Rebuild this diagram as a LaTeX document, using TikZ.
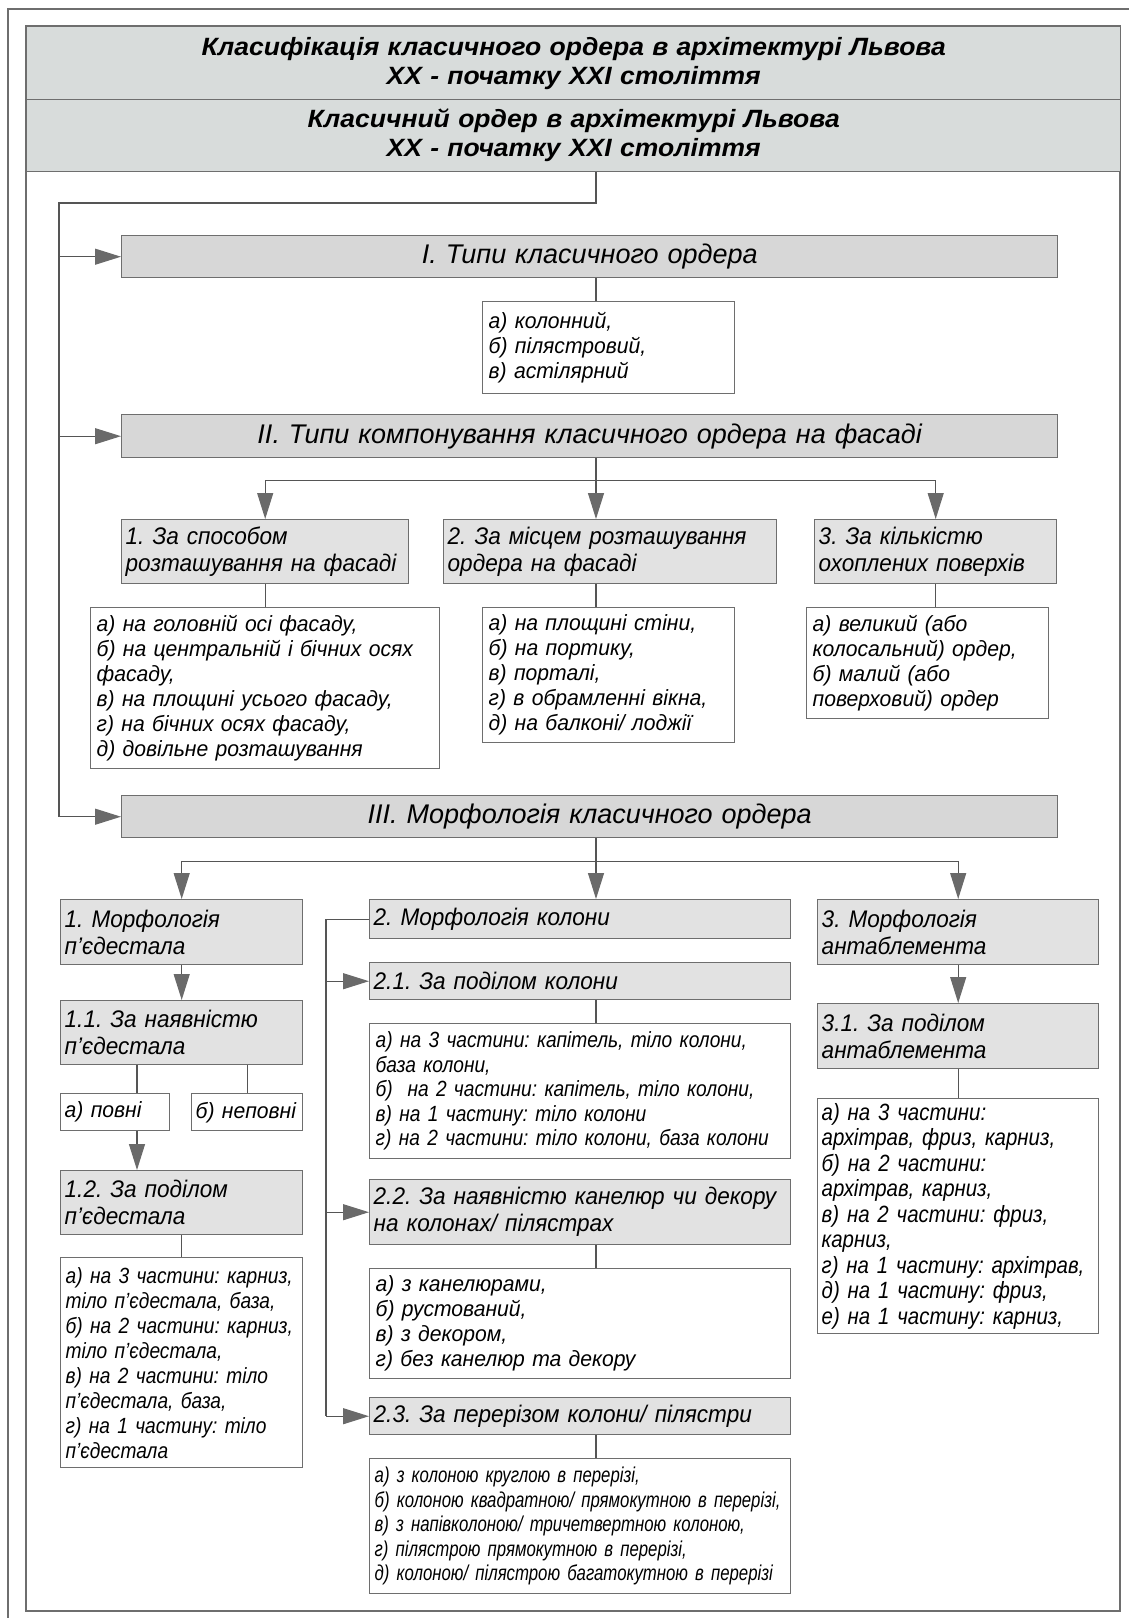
\documentclass[tikz,border=0pt]{standalone}
\usepackage{fontspec}
\setmainfont{Liberation Sans}
\newfontfamily\wideface[FakeStretch=1.06]{Liberation Sans}
\newfontfamily\bodyface[FakeStretch=0.96]{Liberation Sans}
\newfontfamily\subface[FakeStretch=0.94]{Liberation Sans}
\newfontfamily\semiface[FakeStretch=0.87]{Liberation Sans}
\newfontfamily\narrowface[FakeStretch=0.78]{Liberation Sans}
\usetikzlibrary{arrows.meta}

\definecolor{framegray}{HTML}{6E6E6E}
\definecolor{linegray}{HTML}{555555}
\definecolor{arrgray}{HTML}{6A6A6A}
\definecolor{hdrfill}{HTML}{D8DCDB}
\definecolor{secfill}{HTML}{D7D7D7}
\definecolor{subfill}{HTML}{E2E2E2}

\begin{document}
\frenchspacing
\begin{tikzpicture}[x=1pt,y=-1pt,
  frame/.style={draw=framegray,line width=1.5pt},
  link/.style={draw=linegray,line width=1.2pt},
  arr/.style={link,-{Triangle[length=26pt,width=16pt,color=arrgray]}},
  hdrbox/.style={draw=framegray,line width=1.4pt,fill=hdrfill,anchor=north west,
    align=center,inner sep=0pt,font=\wideface\bfseries\itshape\fontsize{25}{29}\selectfont},
  secbox/.style={draw=framegray,line width=1.4pt,fill=secfill,anchor=north west,
    align=center,inner sep=0pt,font=\itshape\fontsize{27}{30}\selectfont},
  subbox/.style={draw=framegray,line width=1.4pt,fill=subfill,anchor=north west,
    align=left,inner xsep=4pt,inner ysep=0pt,font=\subface\itshape\fontsize{24}{27}\selectfont},
  detbox/.style={draw=framegray,line width=1.4pt,fill=white,anchor=north west,
    align=left,inner xsep=6pt,inner ysep=0pt,font=\bodyface\itshape\fontsize{22}{25}\selectfont}]
\useasboundingbox (0,0) rectangle (1129,1618);

% frames
\draw[frame] (8,1618) -- (8,9) -- (1129,9);
\draw[frame] (26,26) rectangle (1120,1611);

\coordinate (mid) at (596,0);
\coordinate (trunk) at (59,203);
\coordinate (colbus) at (326,919);
\coordinate (fx) at (137,0);

% headers
\node[hdrbox,text width=1094pt,minimum height=73pt] (hdrA) at (26,26)
  {Класифікація класичного ордера в архітектурі Львова\\ XX - початку XXI століття};
\node[hdrbox,text width=1094pt,minimum height=72pt] (hdrB) at (26,99)
  {Класичний ордер в архітектурі Львова\\ XX - початку XXI століття};

% I
\node[secbox,text width=936pt,minimum height=42pt] (secI) at (121,235) {I. Типи класичного ордера};
\node[detbox,text width=240pt,minimum height=92pt] (types) at (482,301)
  {а) колонний,\\ б) пілястровий,\\ в) астілярний};

% II
\node[secbox,text width=936pt,minimum height=43pt] (secII) at (121,414)
  {II. Типи компонування класичного ордера на фасаді};
\node[subbox,text width=279pt,minimum height=64pt] (byPlace) at (121,519)
  {1. За способом\\ розташування на фасаді};
\node[subbox,text width=325pt,minimum height=64pt] (byPos) at (443,519)
  {2. За місцем розташування\\ ордера на фасаді};
\node[subbox,text width=234pt,minimum height=64pt] (byFloors) at (814,519)
  {3. За кількістю\\ охоплених поверхів};
\node[detbox,text width=337pt,minimum height=161pt] (plD) at (90,607)
  {а) на головній осі фасаду,\\ б) на центральній і бічних осях\\ фасаду,\\ в) на площині усього фасаду,\\ г) на бічних осях фасаду,\\ д) довільне розташування};
\node[detbox,text width=240pt,minimum height=135pt] (posD) at (482,607)
  {а) на площині стіни,\\ б) на портику,\\ в) порталі,\\ г) в обрамленні вікна,\\ д) на балконі/ лоджії};
\node[detbox,text width=230pt,minimum height=111pt] (flD) at (806,607)
  {а) великий (або\\ колосальний) ордер,\\ б) малий (або\\ поверховий) ордер};

% III
\node[secbox,text width=936pt,minimum height=42pt] (secIII) at (121,795)
  {III. Морфологія класичного ордера};

% column 1
\node[subbox,text width=234pt,minimum height=65pt] (ped) at (60,899) {1. Морфологія\\ п’єдестала};
\node[subbox,text width=234pt,minimum height=64pt] (pedHas) at (60,1000) {1.1. За наявністю\\ п’єдестала};
\node[detbox,text width=101pt,inner xsep=4pt,minimum height=37pt] (full) at (60,1093) {а) повні};
\node[detbox,text width=103pt,inner xsep=4pt,minimum height=37pt] (part) at (191,1093) {б) неповні};
\node[subbox,text width=234pt,minimum height=64pt] (pedDiv) at (60,1170) {1.2. За поділом\\ п’єдестала};
\node[detbox,text width=232pt,inner xsep=5pt,minimum height=210pt,
  font=\semiface\itshape\fontsize{22}{25}\selectfont] (pedDivD) at (60,1257)
  {а) на 3 частини: карниз,\\ тіло п’єдестала, база,\\ б) на 2 частини: карниз,\\ тіло п’єдестала,\\ в) на 2 частини: тіло\\ п’єдестала, база,\\ г) на 1 частину: тіло\\ п’єдестала};

% column 2
\node[subbox,text width=413pt,minimum height=39pt] (col) at (369,899) {2. Морфологія колони};
\node[subbox,text width=413pt,minimum height=37pt] (colDiv) at (369,962) {2.1. За поділом колони};
\node[detbox,text width=409pt,minimum height=135pt,
  font=\semiface\itshape\fontsize{22}{24.5}\selectfont] (colDivD) at (369,1023)
  {а) на 3 частини: капітель, тіло колони,\\ база колони,\\ б)\ \ на 2 частини: капітель, тіло колони,\\ в) на 1 частину: тіло колони\\ г) на 2 частини: тіло колони, база колони};
\node[subbox,text width=413pt,minimum height=65pt] (colFlute) at (369,1179)
  {2.2. За наявністю канелюр чи декору\\ на колонах/ пілястрах};
\node[detbox,text width=409pt,minimum height=110pt] (colFluteD) at (369,1268)
  {а) з канелюрами,\\ б) рустований,\\ в) з декором,\\ г) без канелюр та декору};
\node[subbox,text width=413pt,minimum height=37pt] (colSect) at (369,1397) {2.3. За перерізом колони/ пілястри};
\node[detbox,text width=411pt,inner xsep=5pt,minimum height=135pt,
  font=\narrowface\itshape\fontsize{21.5}{24.5}\selectfont] (colSectD) at (369,1458)
  {а) з колоною круглою в перерізі,\\ б) колоною квадратною/ прямокутною в перерізі,\\ в) з напівколоною/ тричетвертною колоною,\\ г) пілястрою прямокутною в перерізі,\\ д) колоною/ пілястрою багатокутною в перерізі};

% column 3
\node[subbox,text width=273pt,minimum height=65pt] (ent) at (817,899) {3. Морфологія\\ антаблемента};
\node[subbox,text width=273pt,minimum height=65pt] (entDiv) at (817,1003) {3.1. За поділом\\ антаблемента};
\node[detbox,text width=273pt,inner xsep=4pt,minimum height=235pt,
  font=\semiface\itshape\fontsize{23.5}{25.5}\selectfont] (entDivD) at (817,1098)
  {а) на 3 частини:\\ архітрав, фриз, карниз,\\ б) на 2 частини:\\ архітрав, карниз,\\ в) на 2 частини: фриз,\\ карниз,\\ г) на 1 частину: архітрав,\\ д) на 1 частину: фриз,\\ е) на 1 частину: карниз,};

% trunk
\draw[link] (hdrB.south -| mid) |- (trunk) -- (trunk |- secIII.west);
\draw[arr] (trunk |- secI.west) -- (secI.west);
\draw[arr] (trunk |- secII.west) -- (secII.west);
\draw[arr] (trunk |- secIII.west) -- (secIII.west);

\draw[link] (secI.south -| mid) -- (types.north -| mid);

\draw[link] (secII.south -| mid) -- ++(0,22) coordinate (brII);
\draw[link] (brII -| byPlace.north) -- (brII -| byFloors.north);
\draw[arr] (brII -| byPlace.north) -- (byPlace.north);
\draw[arr] (brII) -- (byPos.north -| mid);
\draw[arr] (brII -| byFloors.north) -- (byFloors.north);
\draw[link] (byPlace.south) -- (byPlace.south |- plD.north);
\draw[link] (byPos.south -| mid) -- (posD.north -| mid);
\draw[link] (byFloors.south) -- (byFloors.south |- flD.north);

\draw[link] (secIII.south -| mid) -- ++(0,23) coordinate (brIII);
\draw[link] (brIII -| ped.north) -- (brIII -| ent.north);
\draw[arr] (brIII -| ped.north) -- (ped.north);
\draw[arr] (brIII) -- (col.north -| mid);
\draw[arr] (brIII -| ent.north) -- (ent.north);

% pedestal
\draw[arr] (ped.south) -- (pedHas.north);
\draw[link] (pedHas.south -| fx) -- (full.north -| fx);
\draw[link] (pedHas.south -| part.north) -- (part.north);
\draw[arr] (full.south -| fx) -- (pedDiv.north -| fx);
\draw[link] (pedDiv.south) -- (pedDivD.north);

% column
\draw[link] (col.west) -| (colbus |- colSect.west);
\draw[arr] (colbus |- colDiv.west) -- (colDiv.west);
\draw[arr] (colbus |- colFlute.west) -- (colFlute.west);
\draw[arr] (colbus |- colSect.west) -- (colSect.west);
\draw[link] (colDiv.south -| mid) -- (colDivD.north -| mid);
\draw[link] (colFlute.south -| mid) -- (colFluteD.north -| mid);
\draw[link] (colSect.south -| mid) -- (colSectD.north -| mid);

% entablature
\draw[arr] (ent.south) -- (entDiv.north);
\draw[link] (entDiv.south) -- (entDivD.north);
\end{tikzpicture}
\end{document}
